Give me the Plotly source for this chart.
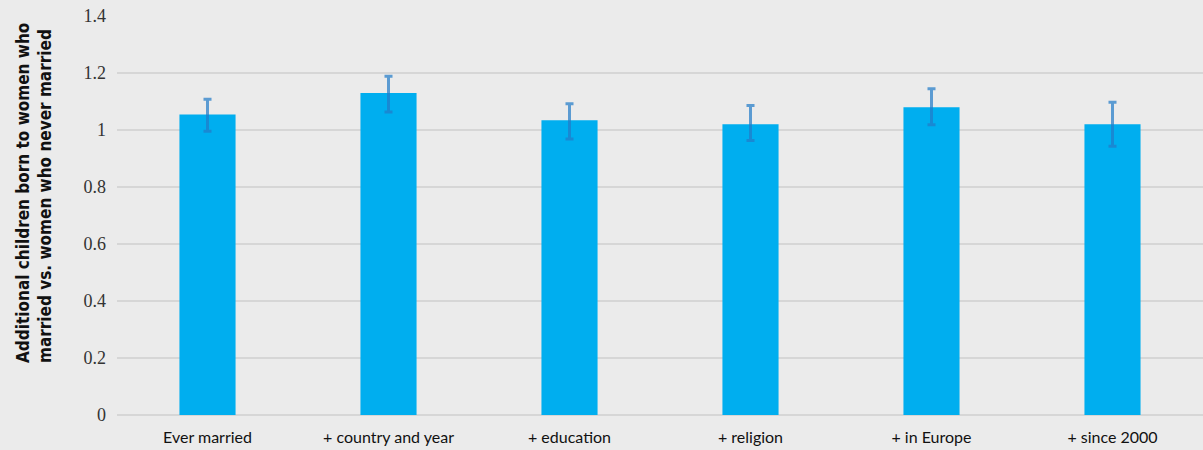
import plotly.graph_objects as go

categories = ["Ever married", "+ country and year", "+ education", "+ religion", "+ in Europe", "+ since 2000"]
values = [1.054, 1.130, 1.034, 1.020, 1.080, 1.020]
err_upper = [1.108, 1.189, 1.092, 1.086, 1.145, 1.097]
err_lower = [0.996, 1.063, 0.968, 0.963, 1.018, 0.943]
y_ticks = [0, 0.2, 0.4, 0.6, 0.8, 1.0, 1.2, 1.4]
y_ticklabels = ["0", "0.2", "0.4", "0.6", "0.8", "1", "1.2", "1.4"]

plus = [u - v for u, v in zip(err_upper, values)]
minus = [v - l for v, l in zip(values, err_lower)]

fig = go.Figure(go.Bar(
    x=categories, y=values,
    marker=dict(color="#00AEEF", line=dict(width=0)),
    error_y=dict(type="data", symmetric=False, array=plus, arrayminus=minus,
                 color="rgba(34,124,200,0.72)", thickness=3, width=4),
))

fig.update_layout(
    width=1203, height=450,
    margin=dict(l=117, r=0, t=16, b=35),
    paper_bgcolor="#EBEBEB", plot_bgcolor="#EBEBEB",
    bargap=0.69,
    showlegend=False,
    xaxis=dict(showgrid=False, showline=False, zeroline=False, ticks="",
               tickfont=dict(family="Lato, Open Sans, sans-serif", size=16, color="#111"),
               ticklabelstandoff=11),
    yaxis=dict(range=[0, 1.4], tickvals=y_ticks, ticktext=y_ticklabels,
               showgrid=True, gridcolor="#D6D6D6", gridwidth=1.5,
               zeroline=True, zerolinecolor="#D6D6D6", zerolinewidth=1.5,
               showline=False, ticks="",
               tickfont=dict(family="Liberation Serif, DejaVu Serif, serif", size=18, color="#333"),
               ticklabelstandoff=10),
    annotations=[dict(
        text="<b>Additional children born to women who<br>married vs. women who never married</b>",
        textangle=-90, xref="paper", yref="paper",
        x=(11 - 117) / 1086, xanchor="left", y=(415 - 365) / 399, yanchor="bottom",
        align="left", showarrow=False,
        font=dict(family="Liberation Sans Narrow, DejaVu Sans Condensed, Roboto, sans-serif", size=17, color="#111"),
    )],
)

fig.write_html("out.html")
